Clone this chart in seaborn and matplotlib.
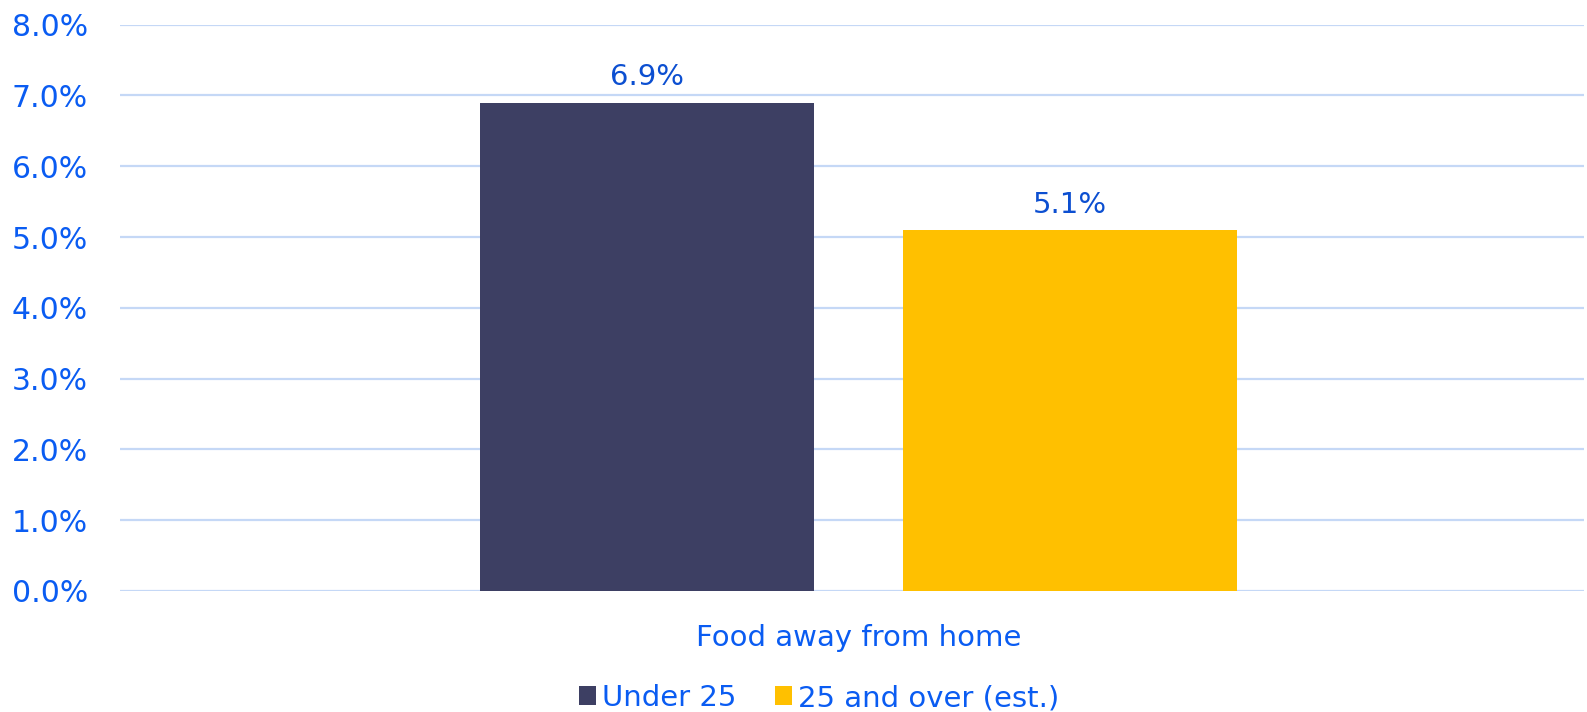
import matplotlib
matplotlib.use("Agg")
import matplotlib.pyplot as plt
from matplotlib.patches import Patch
import seaborn as sns
import pandas as pd

# Share of spending growth by age group
categories = ["Food away from home"]
groups = ["Under 25", "25 and over (est.)"]
values = [0.069, 0.051]
value_labels = ["6.9%", "5.1%"]
ytick_values = [0.0, 0.01, 0.02, 0.03, 0.04, 0.05, 0.06, 0.07, 0.08]
ytick_labels = ["0.0%", "1.0%", "2.0%", "3.0%", "4.0%", "5.0%", "6.0%", "7.0%", "8.0%"]

colors = ["#3D3F63", "#FFC000"]
tick_blue = "#0A5CF2"
label_blue = "#0C4FD1"
grid_blue = "#C5D8F6"

sns.set_theme(style="white")
plt.rcParams["font.family"] = ["DejaVu Sans"]

df = pd.DataFrame({
    "category": categories * len(groups),
    "group": groups,
    "value": values,
})

fig = plt.figure(figsize=(15.87, 7.12), dpi=100)
ax = fig.add_axes([120 / 1587, 1 - 591 / 712, 1464 / 1587, (591 - 24.7) / 712])

sns.barplot(data=df, x="category", y="value", hue="group", hue_order=groups,
            palette=colors, width=0.578, gap=0.21, saturation=1,
            linewidth=0, edgecolor="none",
            legend=False, ax=ax, zorder=3)

for container, lab in zip(ax.containers, value_labels):
    ax.bar_label(container, labels=[lab], padding=8, fontsize=21, color=label_blue)

ax.set_ylim(0, 0.08)
ax.set_xlim(-0.5044, 0.4956)
ax.set_yticks(ytick_values)
ax.set_yticklabels(ytick_labels)
ax.set_xlabel("")
ax.set_ylabel("")
ax.yaxis.grid(True, color=grid_blue, linewidth=1.6, zorder=0)
ax.xaxis.grid(False)
for s in ax.spines.values():
    s.set_visible(False)
ax.tick_params(axis="y", length=0, pad=23, labelsize=21.5, labelcolor=tick_blue)
ax.tick_params(axis="x", length=0, pad=24, labelsize=21, labelcolor=tick_blue)

handles = [Patch(facecolor=c, edgecolor="none", label=g) for c, g in zip(colors, groups)]
fig.legend(handles=handles, loc="center", bbox_to_anchor=(819 / 1587, 1 - 698 / 712),
           ncol=2, frameon=False, fontsize=21, labelcolor=tick_blue,
           handlelength=0.6, handleheight=0.6, handletextpad=0.2,
           columnspacing=1.3, borderpad=0, borderaxespad=0)

fig.savefig("out.png", dpi=100)
